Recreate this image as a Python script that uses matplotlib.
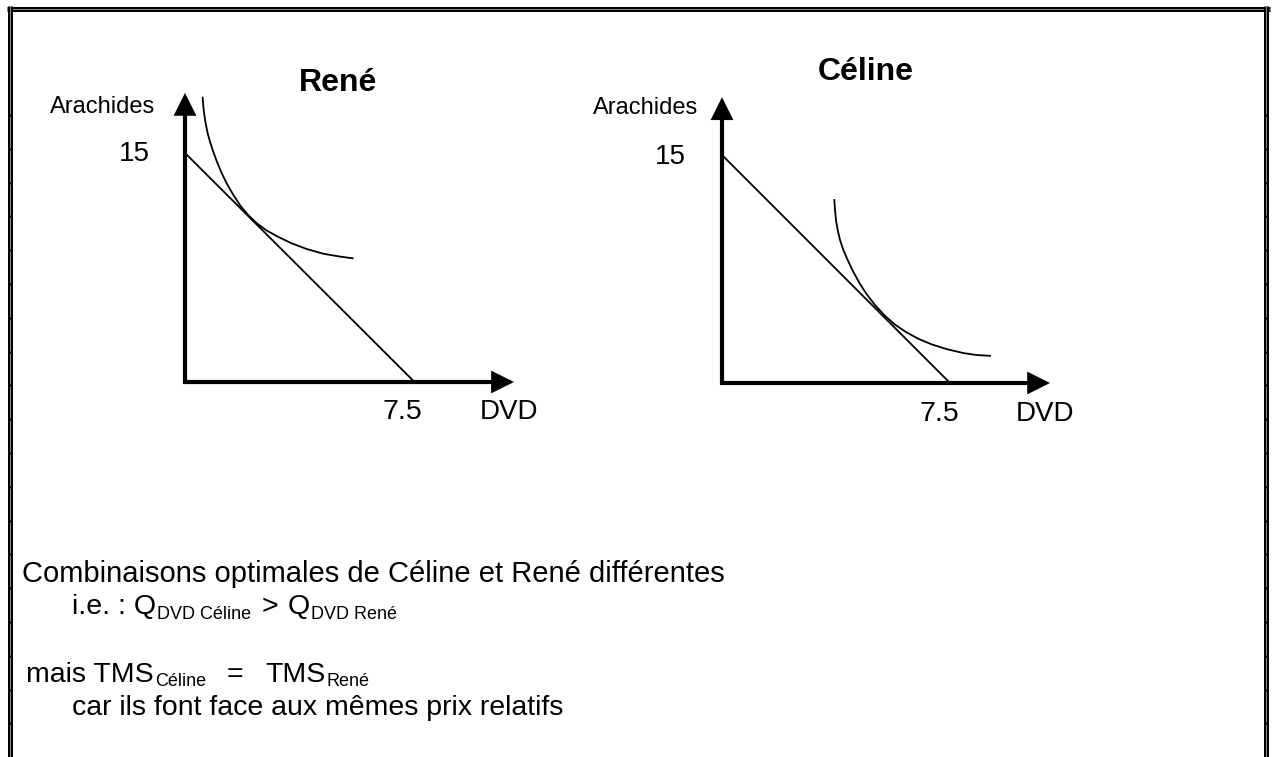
import matplotlib
matplotlib.use("Agg")
import matplotlib.pyplot as plt
from matplotlib.lines import Line2D
import numpy as np

plt.rcParams['font.family'] = ['Liberation Sans', 'DejaVu Sans']

# budget line (same for both): 15 arachides or 7.5 DVD
budget_x = [0, 7.5]
budget_y = [15, 0]

# indifference curves
rene_ic_x = [0.577, 0.599, 0.632, 0.675, 0.741, 0.817, 0.915, 1.035, 1.187, 1.362, 1.580,
             1.819, 2.070, 2.342, 2.669, 3.050, 3.486, 3.976, 4.521, 5.011, 5.479]
rene_ic_y = [18.62, 18.03, 17.49, 16.94, 16.28, 15.74, 15.13, 14.47, 13.73, 13.01, 12.25,
             11.52, 10.92, 10.40, 9.92, 9.50, 9.08, 8.71, 8.40, 8.23, 8.10]
celine_ic_x = [3.695, 3.717, 3.750, 3.805, 3.882, 3.991, 4.134, 4.320, 4.539, 4.759, 5.033,
               5.362, 5.691, 6.053, 6.458, 6.897, 7.390, 7.939, 8.377, 8.816]
celine_ic_y = [12.04, 11.38, 10.72, 10.07, 9.41, 8.75, 8.09, 7.31, 6.52, 5.84, 5.13,
               4.42, 3.84, 3.35, 2.91, 2.54, 2.23, 1.97, 1.84, 1.79]

W, H = 1275, 757
fig = plt.figure(figsize=(W / 100, H / 100), dpi=100)


def panel(ox, oy, sx, sy, title, title_xy, arach_xy, q15_xy, q75_xy, dvd_xy, tips, ic_x, ic_y):
    # ox, oy: origin in pixels (from top); sx, sy: pixels per unit
    ax = fig.add_axes([ox / W, (H - oy) / H, 11 * sx / W, 20 * sy / H])
    ax.set_xlim(0, 11)
    ax.set_ylim(0, 20)
    ax.axis('off')

    # axes with arrows
    ax.plot([0, 0, tips[0] - 0.4], [tips[1] - 0.8, 0, 0], color='black', lw=3,
            solid_joinstyle='miter', clip_on=False)
    for xy in [(tips[0], 0), (0, tips[1])]:
        ax.annotate('', xy=xy, xytext=(0, 0),
                    arrowprops=dict(arrowstyle='-|>,head_length=0.4,head_width=0.2',
                                    mutation_scale=33, lw=2, color='black',
                                    shrinkA=0, shrinkB=0, joinstyle='miter',
                                    capstyle='butt'),
                    annotation_clip=False)

    ax.plot(budget_x, budget_y, color='black', lw=1.3, clip_on=False)
    ax.plot(ic_x, ic_y, color='black', lw=1.3, clip_on=False,
            solid_joinstyle='round')

    ax.text(*title_xy, title, fontsize=23, fontweight='bold', ha='center', va='center')
    ax.text(*arach_xy, 'Arachides', fontsize=17, ha='right', va='center')
    ax.text(*q15_xy, '15', fontsize=20, ha='right', va='center')
    ax.text(*q75_xy, '7.5', fontsize=20.5, ha='center', va='center')
    ax.text(*dvd_xy, 'DVD', fontsize=20, ha='center', va='center')


panel(185, 382, 30.6, 15.27, 'René', (5.0, 19.58), (-0.98, 18.0), (-1.14, 14.93),
      (7.12, -1.96), (10.59, -1.96), (10.75, 18.93), rene_ic_x, rene_ic_y)
panel(722, 383, 30.4, 15.2, 'Céline', (4.74, 20.46), (-0.79, 18.09), (-1.18, 14.87),
      (7.14, -2.04), (10.63, -2.04), (10.79, 18.8), celine_ic_x, celine_ic_y)

# text below the graphs (pieces placed in pixels: x, baseline y)
renderer = fig.canvas.get_renderer()


def put(x, y, s, size, sub=None, sub_size=13, drop=5):
    t = fig.text(x / W, 1 - y / H, s, fontsize=size, va='baseline', ha='left')
    if sub:
        x1 = t.get_window_extent(renderer).x1
        fig.text((x1 + 1) / W, 1 - (y + drop) / H, sub, fontsize=sub_size,
                 va='baseline', ha='left')


fs = 20.5
put(22, 582, 'Combinaisons optimales de Céline et René différentes', 21)
put(72, 614, 'i.e. : Q', fs, 'DVD Céline')
put(262, 614, '>', fs)
put(288, 614, 'Q', fs, 'DVD René')
put(26, 682, 'mais TMS', fs, 'Céline', drop=4)
put(227, 682, '=', fs)
put(265, 682, 'TMS', fs, 'René', drop=4)
put(72, 715, 'car ils font face aux mêmes prix relatifs', fs)


# double-line frame (top, left, right)
def px(x, y):
    return x / W, 1 - y / H


frame = [([7, 1270], [8.5, 8.5]), ([9.8, 9.8], [6, H]), ([1266, 1266], [6, H])]
for xs, ys in frame:
    fx, fy = px(np.array(xs), np.array(ys))
    fig.add_artist(Line2D(fx, fy, color='black', lw=5 * 0.72, solid_capstyle='butt'))
    fig.add_artist(Line2D(fx, fy, color='#888888', lw=1.0 * 0.72, solid_capstyle='butt'))
for yy in np.arange(115, H, 33.8):
    for xx in [9.8, 1266]:
        fx, fy = px(np.array([xx, xx]), np.array([yy - 1, yy + 1]))
        fig.add_artist(Line2D(fx, fy, color='black', lw=5 * 0.72, solid_capstyle='butt'))

fig.savefig('out.png', dpi=100)
